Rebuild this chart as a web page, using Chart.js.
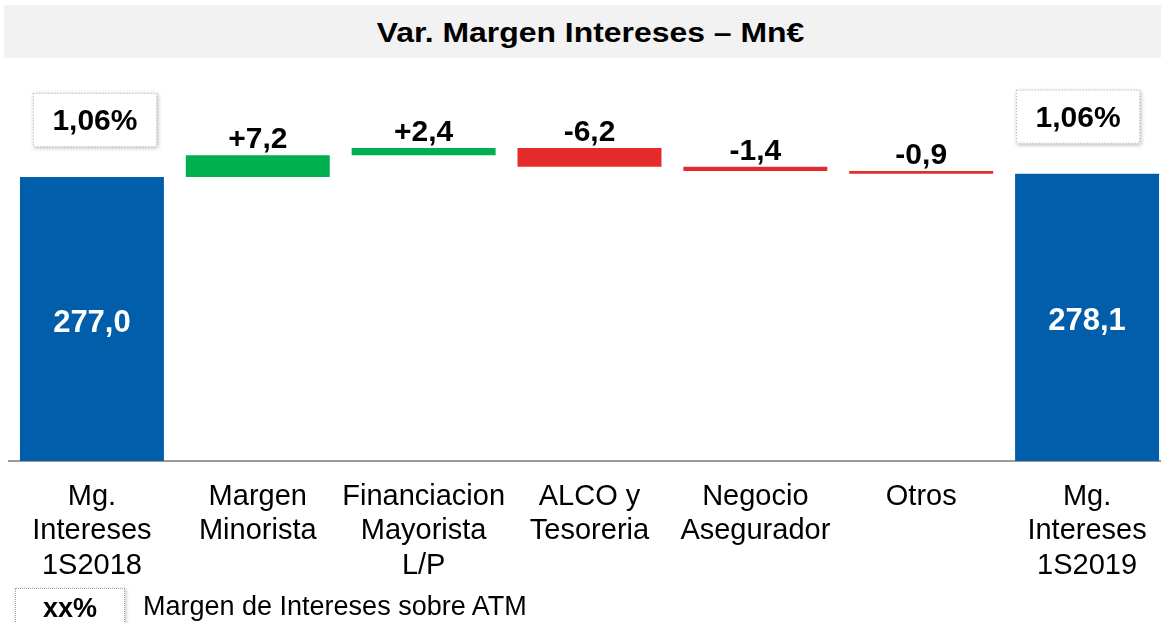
<!DOCTYPE html>
<html>
<head>
<meta charset="utf-8">
<script src="https://cdn.jsdelivr.net/npm/chart.js@4.4.1/dist/chart.umd.min.js"></script>
<style>
    html, body {
        margin: 0;
        padding: 0;
        width: 1161px;
        height: 623px;
        overflow: hidden;
        background: #ffffff;
        font-family: 'Liberation Sans', Arial, sans-serif;
    }
    .wf-title {
        position: absolute;
        left: 4px;
        top: 5px;
        width: 1157px;
        height: 53px;
        background: #f2f2f2;
        text-align: center;
        line-height: 55px;
        font-weight: bold;
        font-size: 28px;
        color: #000;
    }
    .wf-title span {
        display: inline-block;
        transform: translateX(8px) scaleX(1.14);
    }
    .wf-chart {
        position: absolute;
        left: 0;
        top: 0;
        width: 1172px;
        height: 623px;
    }
    .wf-legend-box {
        position: absolute;
        left: 15px;
        top: 588px;
        width: 108px;
        height: 40px;
        border: 1px dotted #a6a6a6;
        box-shadow: 1px 1px 4px rgba(0, 0, 0, 0.25);
        background: #fff;
        text-align: center;
        line-height: 38px;
        font-weight: bold;
        font-size: 27px;
        color: #000;
    }
    .wf-legend-text {
        position: absolute;
        left: 143px;
        top: 591px;
        line-height: 30px;
        font-size: 27px;
        color: #000;
    }
</style>
</head>
<body>
<div class="wf-title"><span>Var. Margen Intereses – Mn€</span></div>
<div class="wf-chart"><canvas id="wf-canvas" width="1172" height="623"></canvas></div>
<div class="wf-legend-box">xx%</div>
<div class="wf-legend-text">Margen de Intereses sobre ATM</div>

<script>
// --- data (Mn€) ---
const categories = [
    ['Mg.', 'Intereses', '1S2018'],
    ['Margen', 'Minorista'],
    ['Financiacion', 'Mayorista', 'L/P'],
    ['ALCO y', 'Tesoreria'],
    ['Negocio', 'Asegurador'],
    ['Otros'],
    ['Mg.', 'Intereses', '1S2019'],
];
const openingValue = 277.0;
const closingValue = 278.1;
const deltas = [7.2, 2.4, -6.2, -1.4, -0.9];
const marginOnAtm = ['1,06%', '1,06%'];

const BLUE = '#005eab';
const GREEN = '#00b050';
const RED = '#e32b2b';
const FONT = "'Liberation Sans', Arial, sans-serif";

// axis is cut (not starting at zero), as in the original slide
const Y_MIN = 183.3;
const Y_MAX = 312.3;

// small horizontal nudges of the ATM boxes, as placed on the slide
const BOX_SHIFT = [3, -9];

function formatNumber(v, signed) {
    const s = Math.abs(v).toFixed(1).replace('.', ',');
    if (!signed) {
        return s;
    }
    return (v >= 0 ? '+' : '-') + s;
}

function buildRanges() {
    const ranges = [[Y_MIN, openingValue]];
    let running = openingValue;
    deltas.forEach(function (d) {
        const next = Math.round((running + d) * 10) / 10;
        ranges.push([running, next]);
        running = next;
    });
    ranges.push([Y_MIN, closingValue]);
    return ranges;
}

function buildColors() {
    const colors = [BLUE];
    deltas.forEach(function (d) {
        colors.push(d >= 0 ? GREEN : RED);
    });
    colors.push(BLUE);
    return colors;
}

const ranges = buildRanges();
const lastIndex = categories.length - 1;

const labelsPlugin = {
    id: 'wfLabels',
    afterDatasetsDraw(chart) {
        const ctx = chart.ctx;
        const meta = chart.getDatasetMeta(0);
        ctx.save();
        meta.data.forEach(function (bar, i) {
            const x = bar.x;
            const top = Math.min(bar.y, bar.base);
            const bottom = Math.max(bar.y, bar.base);
            if (i === 0 || i === lastIndex) {
                const value = i === 0 ? openingValue : closingValue;
                // value inside the bar
                ctx.fillStyle = '#ffffff';
                ctx.font = 'bold 31px ' + FONT;
                ctx.textAlign = 'center';
                ctx.textBaseline = 'middle';
                ctx.fillText(formatNumber(value, false), x, (top + bottom) / 2 + 4);

                // margin on ATM box above the bar
                const k = i === 0 ? 0 : 1;
                const boxW = 124;
                const boxH = 54;
                const boxX = x - boxW / 2 + BOX_SHIFT[k];
                const boxY = top - 30 - boxH;
                ctx.save();
                ctx.shadowColor = 'rgba(0, 0, 0, 0.28)';
                ctx.shadowBlur = 4;
                ctx.shadowOffsetX = 1;
                ctx.shadowOffsetY = 1;
                ctx.fillStyle = '#ffffff';
                ctx.fillRect(boxX, boxY, boxW, boxH);
                ctx.restore();
                ctx.save();
                ctx.strokeStyle = '#a6a6a6';
                ctx.lineWidth = 1;
                ctx.setLineDash([1, 2]);
                ctx.strokeRect(boxX + 0.5, boxY + 0.5, boxW - 1, boxH - 1);
                ctx.restore();
                ctx.fillStyle = '#000000';
                ctx.font = 'bold 30px ' + FONT;
                ctx.textAlign = 'center';
                ctx.textBaseline = 'middle';
                ctx.fillText(marginOnAtm[k], boxX + boxW / 2, boxY + boxH / 2 + 2);
            } else {
                ctx.fillStyle = '#000000';
                ctx.font = 'bold 30px ' + FONT;
                ctx.textAlign = 'center';
                ctx.textBaseline = 'alphabetic';
                ctx.fillText(formatNumber(deltas[i - 1], true), x, top - 7);
            }
        });
        ctx.restore();
    },
};

function init() {
    const canvas = document.getElementById('wf-canvas');
    new Chart(canvas.getContext('2d'), {
        type: 'bar',
        data: {
            labels: categories,
            datasets: [
                {
                    data: ranges,
                    backgroundColor: buildColors(),
                    borderWidth: 0,
                    borderSkipped: false,
                    categoryPercentage: 1,
                    barPercentage: 0.868,
                },
            ],
        },
        options: {
            responsive: false,
            animation: false,
            layout: {
                padding: { top: 70, left: 9, right: 2, bottom: 0 },
            },
            plugins: {
                legend: { display: false },
                title: { display: false },
                tooltip: { enabled: false },
            },
            scales: {
                x: {
                    grid: { display: false, drawTicks: false },
                    border: { display: true, color: '#9a9a9a', width: 2 },
                    ticks: {
                        autoSkip: false,
                        maxRotation: 0,
                        minRotation: 0,
                        padding: 19,
                        color: '#000000',
                        font: { family: FONT, size: 29, lineHeight: 1.18 },
                    },
                    afterFit(scale) {
                        scale.height = 162;
                    },
                },
                y: {
                    display: false,
                    min: Y_MIN,
                    max: Y_MAX,
                },
            },
        },
        plugins: [labelsPlugin],
    });
}

if (document.readyState === 'loading') {
    document.addEventListener('DOMContentLoaded', init);
} else {
    init();
}
</script>
</body>
</html>
